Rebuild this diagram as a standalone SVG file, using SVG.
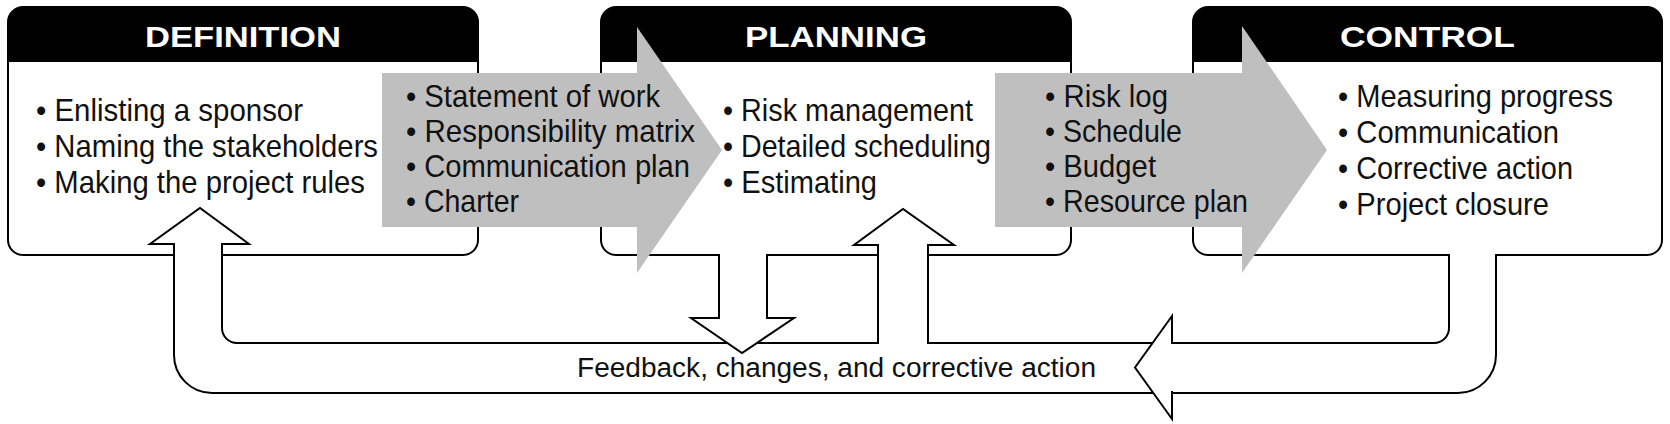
<svg xmlns="http://www.w3.org/2000/svg" width="1670" height="424" viewBox="0 0 1670 424">
<defs>
<style>
.box{fill:#fff;stroke:#000;stroke-width:2}
.hdr{fill:#000}
.ht{font-family:"Liberation Sans",Arial,sans-serif;font-weight:bold;font-size:29px;fill:#fff;text-anchor:middle}
.bt{font-family:"Liberation Sans",Arial,sans-serif;font-size:32px;fill:#111}
.gray{fill:#bfbfbf;stroke:none}
.wf{fill:#fff;stroke:none}
.ln{fill:none;stroke:#000;stroke-width:2;stroke-linejoin:miter;stroke-linecap:square}
.fb{font-family:"Liberation Sans",Arial,sans-serif;font-size:27px;fill:#111}
</style>
</defs>
<rect width="1670" height="424" fill="#fff"/>

<g id="definition">
<rect class="box" x="8" y="7" width="470" height="248" rx="15"/>
<path class="hdr" d="M8,62 V22 A15,15 0 0 1 23,7 H463 A15,15 0 0 1 478,22 V62 Z"/>
<text class="ht" x="243" y="47" textLength="196" lengthAdjust="spacingAndGlyphs">DEFINITION</text>
<text class="bt" x="36" y="121" textLength="267" lengthAdjust="spacingAndGlyphs">• Enlisting a sponsor</text>
<text class="bt" x="36" y="157" textLength="342" lengthAdjust="spacingAndGlyphs">• Naming the stakeholders</text>
<text class="bt" x="36" y="193" textLength="329" lengthAdjust="spacingAndGlyphs">• Making the project rules</text>
</g>

<g id="planning">
<rect class="box" x="601" y="7" width="470" height="248" rx="15"/>
<path class="hdr" d="M601,62 V22 A15,15 0 0 1 616,7 H1056 A15,15 0 0 1 1071,22 V62 Z"/>
<text class="ht" x="836" y="47" textLength="182" lengthAdjust="spacingAndGlyphs">PLANNING</text>
<text class="bt" x="723" y="121" textLength="250" lengthAdjust="spacingAndGlyphs">• Risk management</text>
<text class="bt" x="723" y="157" textLength="268" lengthAdjust="spacingAndGlyphs">• Detailed scheduling</text>
<text class="bt" x="723" y="193" textLength="154" lengthAdjust="spacingAndGlyphs">• Estimating</text>
</g>

<g id="control">
<rect class="box" x="1193" y="7" width="469" height="248" rx="15"/>
<path class="hdr" d="M1193,62 V22 A15,15 0 0 1 1208,7 H1647 A15,15 0 0 1 1662,22 V62 Z"/>
<text class="ht" x="1427.5" y="47" textLength="175" lengthAdjust="spacingAndGlyphs">CONTROL</text>
<text class="bt" x="1338" y="107" textLength="275" lengthAdjust="spacingAndGlyphs">• Measuring progress</text>
<text class="bt" x="1338" y="143" textLength="221" lengthAdjust="spacingAndGlyphs">• Communication</text>
<text class="bt" x="1338" y="179" textLength="235" lengthAdjust="spacingAndGlyphs">• Corrective action</text>
<text class="bt" x="1338" y="215" textLength="211" lengthAdjust="spacingAndGlyphs">• Project closure</text>
</g>

<g id="connectors">
<g id="feedback-loop">
<path class="wf" d="M1449,251 V328 A15,15 0 0 1 1434,343 H928 V245 H954 L903,209 L854,245 H878 V343 H237 A15,15 0 0 1 222,328 V244 H249 L200,208 L150,244 H174 V355 A38,38 0 0 0 212,393 H1458 A38,38 0 0 0 1496,355 V251 Z"/>
<path class="ln" d="M1449,255 V328 A15,15 0 0 1 1434,343 H928 V245 H954 L903,209 L854,245 H878 V343 H237 A15,15 0 0 1 222,328 V244 H249 L200,208 L150,244 H174 V355 A38,38 0 0 0 212,393 H1458 A38,38 0 0 0 1496,355 V255"/>
<polygon class="wf" points="1172,316 1135,367.5 1172,419"/>
<path class="ln" d="M1172,343 V316 L1135,367.5 L1172,419 V392"/>
</g>
<g id="planning-down">
<path class="wf" d="M719,251 V318 H691 L742,353 L794,318 H767 V251 Z"/>
<path class="ln" d="M719,255 V318 H691 L742,353 L794,318 H767 V255"/>
</g>
<text id="feedback-label" class="fb" x="577" y="377" textLength="519" lengthAdjust="spacingAndGlyphs">Feedback, changes, and corrective action</text>
</g>

<g id="outputs-definition">
<polygon class="gray" points="382,73 637,73 637,27 722,150 637,273 637,227 382,227"/>
<text class="bt" x="406" y="107" textLength="254" lengthAdjust="spacingAndGlyphs">• Statement of work</text>
<text class="bt" x="406" y="142" textLength="289" lengthAdjust="spacingAndGlyphs">• Responsibility matrix</text>
<text class="bt" x="406" y="177" textLength="284" lengthAdjust="spacingAndGlyphs">• Communication plan</text>
<text class="bt" x="406" y="212" textLength="113" lengthAdjust="spacingAndGlyphs">• Charter</text>
</g>

<g id="outputs-planning">
<polygon class="gray" points="995,73 1242,73 1242,26 1327,150 1242,273 1242,227 995,227"/>
<text class="bt" x="1045" y="107" textLength="123" lengthAdjust="spacingAndGlyphs">• Risk log</text>
<text class="bt" x="1045" y="142" textLength="137" lengthAdjust="spacingAndGlyphs">• Schedule</text>
<text class="bt" x="1045" y="177" textLength="111" lengthAdjust="spacingAndGlyphs">• Budget</text>
<text class="bt" x="1045" y="212" textLength="203" lengthAdjust="spacingAndGlyphs">• Resource plan</text>
</g>
</svg>
